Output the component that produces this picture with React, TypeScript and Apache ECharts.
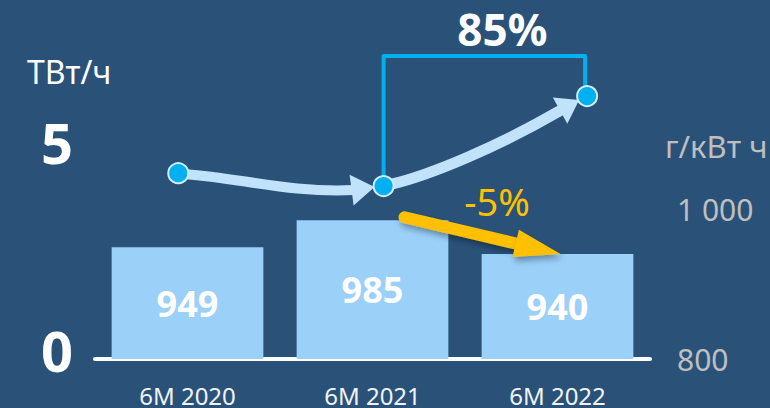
import React, { useEffect, useRef } from "react";
import * as echarts from "echarts";

const categories = ["6M 2020", "6M 2021", "6M 2022"];
const intensity = [949, 985, 940]; // г/кВт ч, right axis
const generation = [4.46, 4.15, 6.31]; // ТВт/ч, left axis
const generationX = [0.45, 1.56, 2.66]; // position along the periods
const growthLabel = "85%";
const dropLabel = "-5%";
const leftUnit = "ТВт/ч";
const rightUnit = "г/кВт ч";

const FONT = "'Noto Sans', 'Open Sans', sans-serif";
const BG = "#2a5279";
const BAR = "#9bd0f9";
const DOT = "#00b0f0";
const ARROW = "#c0e2fa";
const YELLOW = "#ffc000";

function fmtRight(v: number): string {
  if (v >= 1200) return "";
  if (v >= 1000) return `${Math.floor(v / 1000)} ${String(v % 1000).padStart(3, "0")}`;
  return String(v);
}

function head(bx: number, by: number, tx: number, ty: number, hw: number) {
  const dx = tx - bx, dy = ty - by;
  const L = Math.hypot(dx, dy) || 1;
  const nx = -dy / L, ny = dx / L;
  return [
    [bx + nx * hw, by + ny * hw],
    [tx, ty],
    [bx - nx * hw, by - ny * hw],
  ];
}

export default function App() {
  const ref = useRef<HTMLDivElement>(null);
  useEffect(() => {
    if (!ref.current) return;
    const chart = echarts.init(ref.current, undefined, { renderer: "svg" });
    chart.setOption({
      animation: false,
      backgroundColor: BG,
      grid: { left: 95, right: 120, top: 59, bottom: 49 },
      xAxis: [
        {
          type: "category",
          data: categories,
          axisLine: { lineStyle: { color: "#ffffff", width: 4 } },
          axisTick: { show: false },
          axisLabel: { color: "#f2f2f2", fontSize: 24, margin: 24, fontFamily: FONT },
        },
        { type: "value", min: 0, max: 3, show: false },
      ],
      yAxis: [
        {
          type: "value",
          position: "left",
          min: 0,
          max: 7.2,
          interval: 5,
          splitLine: { show: false },
          axisLine: { show: false },
          axisTick: { show: false },
          axisLabel: {
            formatter: (v: number) => (v === 0 || v === 5 ? String(v) : ""),
            color: "#ffffff",
            fontSize: 56,
            fontWeight: "bold",
            fontFamily: FONT,
            margin: 22,
            verticalAlign: "bottom",
            lineHeight: 18,
          },
        },
        {
          type: "value",
          position: "right",
          min: 800,
          max: 1200,
          interval: 200,
          splitLine: { show: false },
          axisLine: { show: false },
          axisTick: { show: false },
          axisLabel: {
            formatter: fmtRight,
            color: "#bfbfbf",
            fontSize: 30,
            fontFamily: FONT,
            margin: 27,
          },
        },
      ],
      series: [
        {
          type: "bar",
          xAxisIndex: 0,
          yAxisIndex: 1,
          data: intensity,
          barWidth: "82%",
          itemStyle: { color: BAR },
          label: {
            show: true,
            position: "inside",
            color: "#ffffff",
            fontSize: 36,
            fontWeight: "bold",
            fontFamily: FONT,
          },
          z: 2,
        },
        {
          type: "scatter",
          xAxisIndex: 1,
          yAxisIndex: 0,
          data: generation.map((v, i) => [generationX[i], v]),
          symbol: "circle",
          symbolSize: 20,
          itemStyle: { color: DOT, borderColor: "#d2ecfb", borderWidth: 2, opacity: 1 },
          emphasis: { disabled: true },
          z: 20,
        },
      ],
    });

    const p = generation.map((v, i) =>
      chart.convertToPixel({ seriesIndex: 1 }, [generationX[i], v]) as number[]
    );
    const b = intensity.map((v, i) =>
      chart.convertToPixel({ seriesIndex: 0 }, [i, v]) as number[]
    );

    // segment 1 arrow
    const s1B = [p[1][0] - 32, p[1][1] + 4];
    const s1T = [p[1][0] - 3, p[1][1] + 1];
    // segment 2 arrow
    const s2B = [p[2][0] - 27, p[2][1] + 14.5];
    const s2T = [p[2][0] - 4, p[2][1] + 2];
    // yellow arrow
    const yS = [b[1][0] + 32, b[1][1] - 3];
    const yT = [b[2][0] + 3, b[2][1]];
    const ydx = yT[0] - yS[0], ydy = yT[1] - yS[1];
    const yL = Math.hypot(ydx, ydy);
    const yB = [yT[0] - (ydx / yL) * 46, yT[1] - (ydy / yL) * 46];
    const shadow = { shadowBlur: 6, shadowOffsetX: 2, shadowOffsetY: 4, shadowColor: "rgba(0,0,0,0.35)" };
    const topY = 56;

    chart.setOption({
      graphic: [
        {
          type: "bezierCurve",
          z: 10,
          shape: {
            x1: p[0][0] + 8, y1: p[0][1] + 1,
            cpx1: p[0][0] + 62, cpy1: p[0][1] + 5,
            cpx2: s1B[0] - 60, cpy2: s1B[1] + 3,
            x2: s1B[0] + 2, y2: s1B[1],
          },
          style: { stroke: ARROW, lineWidth: 10, fill: null },
        },
        {
          type: "polygon",
          z: 10,
          shape: { points: head(s1B[0], s1B[1], s1T[0] - 6, s1T[1], 15.5) },
          style: { fill: ARROW },
        },
        {
          type: "bezierCurve",
          z: 10,
          shape: {
            x1: p[1][0] + 8, y1: p[1][1] - 2,
            cpx1: p[1][0] + 47, cpy1: p[1][1] - 11,
            cpx2: s2B[0] - 60, cpy2: s2B[1] + 35,
            x2: s2B[0] + 2, y2: s2B[1] - 1,
          },
          style: { stroke: ARROW, lineWidth: 11, fill: null },
        },
        {
          type: "polygon",
          z: 10,
          shape: { points: head(s2B[0], s2B[1], s2T[0] - 4, s2T[1] + 2, 15) },
          style: { fill: ARROW },
        },
        {
          type: "polyline",
          z: 9,
          shape: {
            points: [
              [p[1][0], p[1][1] - 10],
              [p[1][0], topY],
              [p[2][0] - 2, topY],
              [p[2][0] - 2, p[2][1] - 10],
            ],
          },
          style: { stroke: DOT, lineWidth: 4, fill: null, lineJoin: "round" },
        },
        {
          type: "line",
          z: 12,
          shape: { x1: yS[0], y1: yS[1], x2: yB[0] + (ydx / yL) * 4, y2: yB[1] + (ydy / yL) * 4 },
          style: { stroke: YELLOW, lineWidth: 12, lineCap: "round", ...shadow },
        },
        {
          type: "polygon",
          z: 12,
          shape: { points: head(yB[0], yB[1], yT[0], yT[1], 14) },
          style: { fill: YELLOW, ...shadow },
        },
        {
          type: "text",
          z: 15,
          x: (p[1][0] + p[2][0]) / 2 + 17,
          y: 29,
          style: {
            text: growthLabel,
            fill: "#ffffff",
            font: `bold 44px ${FONT}`,
            align: "center",
            verticalAlign: "middle",
          },
        },
        {
          type: "text",
          z: 15,
          x: 497,
          y: 201,
          style: {
            text: dropLabel,
            fill: YELLOW,
            font: `38px ${FONT}`,
            align: "center",
            verticalAlign: "middle",
          },
        },
        {
          type: "text",
          z: 15,
          x: 27,
          y: 71,
          style: {
            text: leftUnit,
            fill: "#ffffff",
            font: `32px ${FONT}`,
            align: "left",
            verticalAlign: "middle",
          },
        },
        {
          type: "text",
          z: 15,
          x: 665,
          y: 146,
          style: {
            text: rightUnit,
            fill: "#bfbfbf",
            font: `31px ${FONT}`,
            align: "left",
            verticalAlign: "middle",
          },
        },
      ],
    });

    return () => chart.dispose();
  }, []);
  return (
    <div
      ref={ref}
      style={{ position: "absolute", left: 0, top: 0, width: 770, height: 408 }}
    />
  );
}
